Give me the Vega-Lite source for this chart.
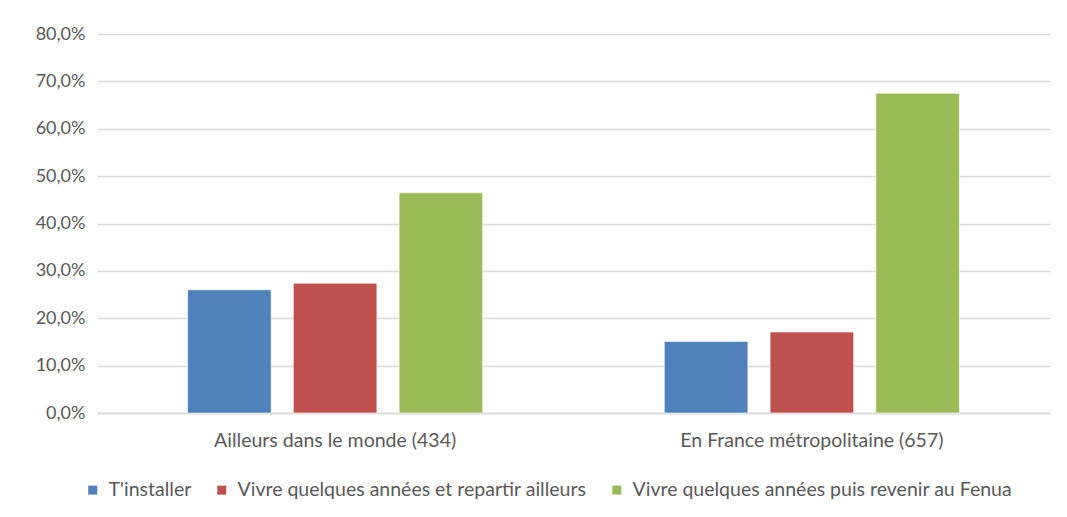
{
  "$schema": "https://vega.github.io/schema/vega-lite/v6.json",
  "width": 953,
  "height": 379,
  "autosize": {"type": "none"},
  "padding": {"left": 97, "top": 34, "right": 17, "bottom": 104},
  "background": "white",
  "data": {
    "values": [
      {"lieu": "Ailleurs dans le monde (434)", "choix": "T'installer", "pct": 0.260},
      {"lieu": "Ailleurs dans le monde (434)", "choix": "Vivre quelques années et repartir ailleurs", "pct": 0.274},
      {"lieu": "Ailleurs dans le monde (434)", "choix": "Vivre quelques années puis revenir au Fenua", "pct": 0.465},
      {"lieu": "En France métropolitaine (657)", "choix": "T'installer", "pct": 0.151},
      {"lieu": "En France métropolitaine (657)", "choix": "Vivre quelques années et repartir ailleurs", "pct": 0.171},
      {"lieu": "En France métropolitaine (657)", "choix": "Vivre quelques années puis revenir au Fenua", "pct": 0.675}
    ]
  },
  "mark": {"type": "bar", "stroke": "white", "strokeWidth": 1, "strokeOpacity": 0.6},
  "encoding": {
    "x": {
      "field": "lieu", "type": "nominal", "sort": null,
      "scale": {"paddingInner": 0.381, "paddingOuter": 0.19},
      "axis": {"title": null, "labelAngle": 0, "ticks": false, "domainColor": "#D9D9D9", "domainWidth": 1.5,
               "labelPadding": 18, "labelFontSize": 19.5, "labelColor": "#595959", "labelFont": "Lato", "labelLimit": 0}
    },
    "xOffset": {
      "field": "choix", "type": "nominal", "sort": null,
      "scale": {"paddingInner": 0.21, "paddingOuter": 0}
    },
    "y": {
      "field": "pct", "type": "quantitative",
      "scale": {"domain": [0, 0.8]},
      "axis": {"title": null, "format": ".1%", "values": [0,0.1,0.2,0.3,0.4,0.5,0.6,0.7,0.8],
               "labelOverlap": false, "domain": false, "ticks": false, "gridColor": "#D9D9D9", "gridWidth": 1.5,
               "labelPadding": 12, "labelFontSize": 18, "labelColor": "#595959", "labelFont": "Lato"}
    },
    "color": {
      "field": "choix", "type": "nominal", "sort": null,
      "scale": {"range": ["#4F81BD", "#C0504D", "#9BBB59"]},
      "legend": {"title": null, "orient": "none", "direction": "horizontal", "legendX": -14, "legendY": 446,
                 "symbolType": "square", "symbolSize": 81, "symbolStrokeWidth": 0, "labelFontSize": 19.5,
                 "labelColor": "#595959", "labelFont": "Lato", "columnPadding": 20, "labelOffset": 6, "labelLimit": 0}
    }
  },
  "config": {
    "view": {"stroke": null},
    "locale": {"number": {"decimal": ",", "thousands": " ", "grouping": [3], "currency": ["", " €"]}}
  }
}
